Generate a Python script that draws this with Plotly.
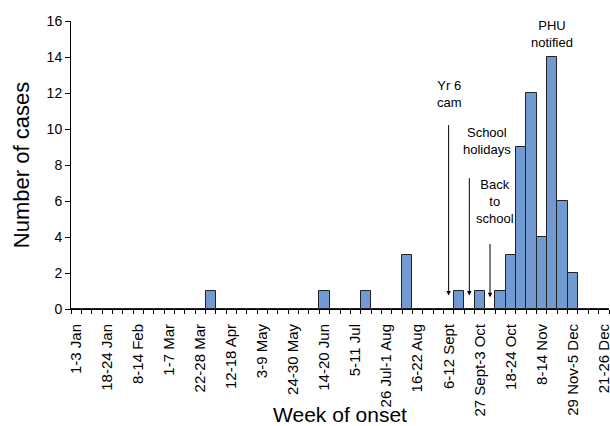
import plotly.graph_objects as go

week_labels = [
    "1-3 Jan", "4-10 Jan", "11-17 Jan", "18-24 Jan", "25-31 Jan", "1-7 Feb",
    "8-14 Feb", "15-21 Feb", "22-28 Feb", "1-7 Mar", "8-14 Mar", "15-21 Mar",
    "22-28 Mar", "29 Mar-4 Apr", "5-11 Apr", "12-18 Apr", "19-25 Apr", "26 Apr-2 May",
    "3-9 May", "10-16 May", "17-23 May", "24-30 May", "31 May-6 Jun", "7-13 Jun",
    "14-20 Jun", "21-27 Jun", "28 Jun-4 Jul", "5-11 Jul", "12-18 Jul", "19-25 Jul",
    "26 Jul-1 Aug", "2-8 Aug", "9-15 Aug", "16-22 Aug", "23-29 Aug", "30 Aug-5 Sept",
    "6-12 Sept", "13-19 Sept", "20-26 Sept", "27 Sept-3 Oct", "4-10 Oct", "11-17 Oct",
    "18-24 Oct", "25-31 Oct", "1-7 Nov", "8-14 Nov", "15-21 Nov", "22-28 Nov",
    "29 Nov-5 Dec", "6-12 Dec", "13-19 Dec", "21-26 Dec",
]

cases = [
    0, 0, 0, 0, 0, 0, 0, 0, 0, 0, 0, 0,
    0, 1, 0, 0, 0, 0, 0, 0, 0, 0, 0, 0,
    1, 0, 0, 0, 1, 0, 0, 0, 3, 0, 0, 0,
    0, 1, 0, 1, 0, 1, 3, 9, 12, 4, 14, 6,
    2, 0, 0, 0,
]

tick_labels = [
    "1-3 Jan", "18-24 Jan", "8-14 Feb", "1-7 Mar", "22-28 Mar", "12-18 Apr",
    "3-9 May", "24-30 May", "14-20 Jun", "5-11 Jul", "26 Jul-1 Aug", "16-22 Aug",
    "6-12 Sept", "27 Sept-3 Oct", "18-24 Oct", "8-14 Nov", "29 Nov-5 Dec", "21-26 Dec",
]

# event arrows
arrow_weeks = ["6-12 Sept", "20-26 Sept", "4-10 Oct"]
arrow_tails = [10.3, 7.35, 3.7]
arrow_heads = [0.75, 0.75, 0.65]

# event labels
label_texts = ["Yr 6<br>cam", "School<br>holidays", "Back<br>to<br>school", "PHU<br>notified"]
label_weeks = ["6-12 Sept", "27 Sept-3 Oct", "4-10 Oct", "15-21 Nov"]
label_values = [11.95, 9.35, 5.95, 15.3]
label_shift = [1, 7, 5, 0]

FONT = "Liberation Sans, Arial, sans-serif"

fig = go.Figure()
fig.add_trace(go.Bar(
    x=week_labels, y=cases,
    marker=dict(color="#729ad2", line=dict(color="#222222", width=1)),
    width=1.0,
))

ticktext = [lab if lab in tick_labels else "" for lab in week_labels]

annotations = []
for wk, tail, head in zip(arrow_weeks, arrow_tails, arrow_heads):
    annotations.append(dict(
        x=wk, y=head, ax=wk, ay=tail, xref="x", yref="y", axref="x", ayref="y",
        showarrow=True, arrowhead=2, arrowsize=0.9, arrowwidth=1, arrowcolor="black",
        text="",
    ))
for txt, wk, yv, xs in zip(label_texts, label_weeks, label_values, label_shift):
    annotations.append(dict(
        x=wk, y=yv, xref="x", yref="y", text=txt, showarrow=False,
        font=dict(family=FONT, size=13, color="black"), align="center",
        xshift=xs,
    ))

fig.update_layout(
    width=610, height=426,
    margin=dict(l=71, r=1, t=21, b=117),
    paper_bgcolor="white", plot_bgcolor="white",
    showlegend=False,
    bargap=0,
    font=dict(family=FONT, color="black"),
    annotations=annotations,
    xaxis=dict(
        type="category", automargin=False,
        categoryorder="array", categoryarray=week_labels,
        range=[-0.5, len(week_labels) - 0.5],
        tickmode="array", tickvals=week_labels, ticktext=ticktext,
        tickson="boundaries",
        ticks="outside", ticklen=4, tickwidth=1, tickcolor="black",
        ticklabelstandoff=8,
        tickangle=-90, tickfont=dict(family=FONT, size=15, color="black"),
        showline=True, linecolor="black", linewidth=1,
        showgrid=False, zeroline=False,
        title=dict(text="Week of onset", font=dict(family=FONT, size=21), standoff=6),
    ),
    yaxis=dict(
        automargin=False,
        range=[0, 16], dtick=2, tick0=0,
        ticks="outside", ticklen=5, tickwidth=1, tickcolor="black",
        tickfont=dict(family=FONT, size=14, color="black"),
        showline=True, linecolor="black", linewidth=1,
        showgrid=False, zeroline=False,
        title=dict(text="Number of cases", font=dict(family=FONT, size=22), standoff=10),
    ),
)

fig.write_html(
    "out.html",
    config={"displayModeBar": False},
    post_script="document.body.style.margin='0';document.body.style.overflow='hidden';",
)
